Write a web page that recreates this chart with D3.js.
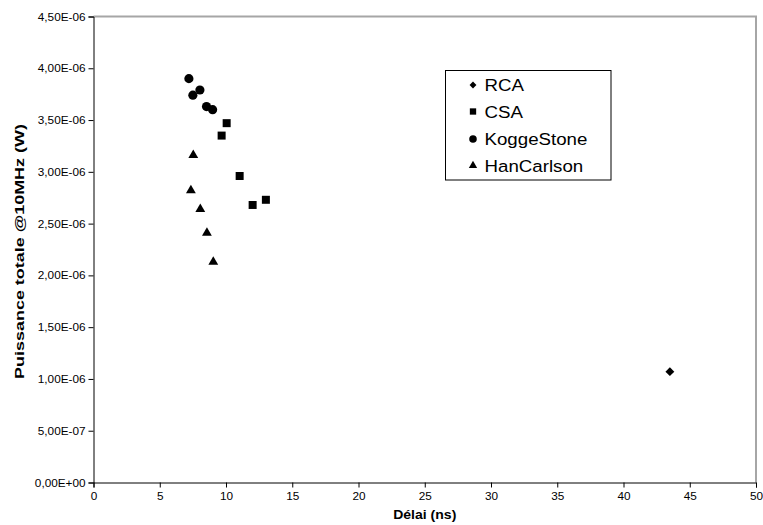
<!DOCTYPE html>
<html><head><meta charset="utf-8">
<script src="https://cdn.jsdelivr.net/npm/d3@7"></script>
<style>body{margin:0;background:#fff;} svg{display:block;font-family:"Liberation Sans",Arial,sans-serif;}</style>
</head><body>
<svg id="c" width="763" height="525"></svg>
<script>
const seriesNames = ["RCA","CSA","KoggeStone","HanCarlson"];
const rcaX = [43.5];
const rcaY = [1.07e-6];
const csaX = [10.05, 9.67, 11.03, 12.01, 13.01];
const csaY = [3.47e-6, 3.35e-6, 2.96e-6, 2.68e-6, 2.73e-6];
const koggeX = [7.2, 7.5, 8.03, 8.53, 8.99];
const koggeY = [3.90e-6, 3.74e-6, 3.79e-6, 3.63e-6, 3.60e-6];
const hanX = [7.53, 7.35, 8.06, 8.56, 9.04];
const hanY = [3.16e-6, 2.82e-6, 2.64e-6, 2.41e-6, 2.13e-6];
const xTicks = [0,5,10,15,20,25,30,35,40,45,50];
const yTicks = [0,5e-7,1e-6,1.5e-6,2e-6,2.5e-6,3e-6,3.5e-6,4e-6,4.5e-6];
const yTickLabels = ["0,00E+00","5,00E-07","1,00E-06","1,50E-06","2,00E-06","2,50E-06","3,00E-06","3,50E-06","4,00E-06","4,50E-06"];

const svg = d3.select("#c");
const L=93.5, R=756, T=16.5, B=482.5;
const x = d3.scaleLinear().domain([0,50]).range([L,R]);
const y = d3.scaleLinear().domain([0,4.5e-6]).range([B,T]);

svg.append("path").attr("d",`M${L},${T}H${R}V${B}`).attr("fill","none").attr("stroke","#a6a6a6").attr("stroke-width",2);

const sx = 1.07;
const xa = svg.append("g").attr("transform",`translate(0,${B})`)
  .call(d3.axisBottom(x).tickValues(xTicks).tickSize(5).tickPadding(5).tickFormat(d3.format("d")));
const ya = svg.append("g").attr("transform",`translate(${L},0)`)
  .call(d3.axisLeft(y).tickValues(yTicks).tickSize(5).tickPadding(3).tickFormat((d,i)=>yTickLabels[i]));
[xa,ya].forEach(a=>{
  a.select(".domain").attr("stroke","#000");
  a.selectAll(".tick line").attr("stroke","#000");
  a.selectAll("text").attr("font-size",11).attr("fill","#000").attr("font-family","Liberation Sans, Arial, sans-serif")
    .each(function(){ const t=d3.select(this); const xv=+t.attr("x")||0; t.attr("x",xv/sx).attr("transform",`scale(${sx},1)`); });
});

svg.append("text").attr("transform",`translate(${(L+R)/2},519) scale(1.08,1)`).attr("text-anchor","middle")
  .attr("font-size",13).attr("font-weight","bold").text("Délai (ns)");
svg.append("text").attr("transform",`translate(24,${(T+B)/2+2}) rotate(-90) scale(1.33,1)`).attr("text-anchor","middle")
  .attr("font-size",13.5).attr("font-weight","bold").text("Puissance totale @10MHz (W)");

const sym = [
  d3.symbol().type(d3.symbolDiamond2).size(50),
  d3.symbol().type(d3.symbolSquare).size(64),
  d3.symbol().type(d3.symbolCircle).size(66),
  d3.symbol().type(d3.symbolTriangle).size(42)
];
const data = [[rcaX,rcaY],[csaX,csaY],[koggeX,koggeY],[hanX,hanY]];
data.forEach(([xs,ys],si)=>{
  svg.append("g").selectAll("path").data(xs.map((v,i)=>[v,ys[i]])).join("path")
    .attr("transform",d=>`translate(${x(d[0])},${y(d[1])})`)
    .attr("d",sym[si]).attr("fill","#000");
});

const lg = svg.append("g");
lg.append("rect").attr("x",445.5).attr("y",70.5).attr("width",165.5).attr("height",109.5)
  .attr("fill","#fff").attr("stroke","#000").attr("stroke-width",1);
const legSym = [
  d3.symbol().type(d3.symbolDiamond2).size(30),
  d3.symbol().type(d3.symbolSquare).size(40),
  d3.symbol().type(d3.symbolCircle).size(45),
  d3.symbol().type(d3.symbolTriangle).size(30)
];
const ly = [85, 111.5, 139, 165.5];
seriesNames.forEach((n,i)=>{
  lg.append("path").attr("transform",`translate(473,${ly[i]})`).attr("d",legSym[i]).attr("fill","#000");
  lg.append("text").attr("transform",`translate(484.5,${ly[i]}) scale(1.1,1)`).attr("dy","0.36em").attr("font-size",17).text(n);
});
</script>
</body></html>
